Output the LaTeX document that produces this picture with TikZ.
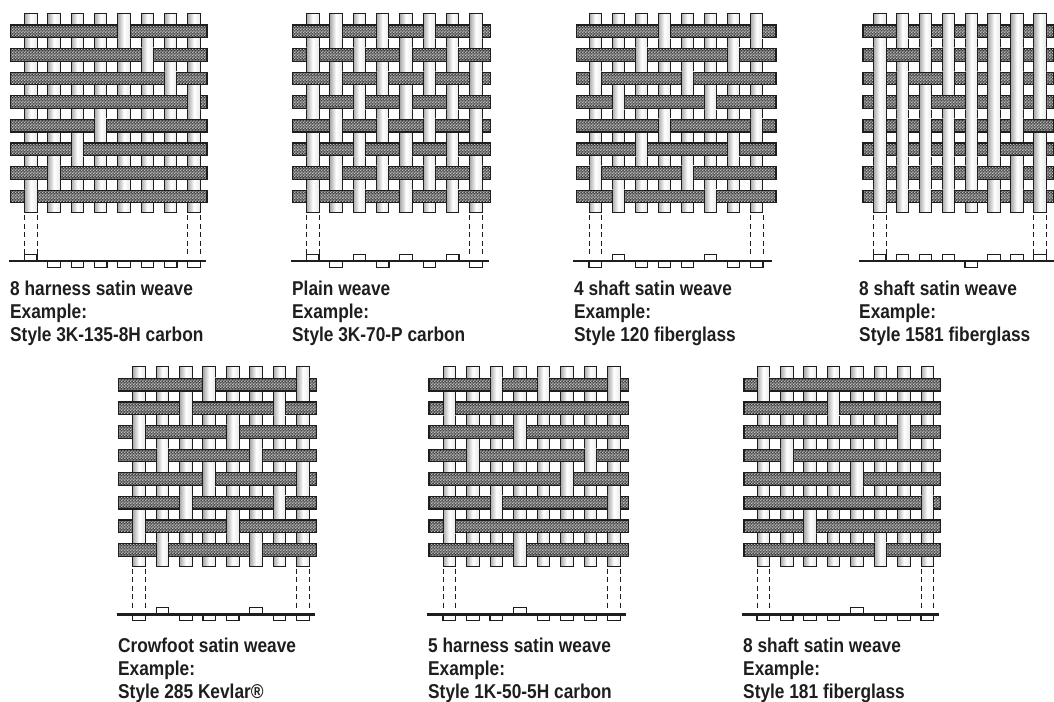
\documentclass[tikz,border=0pt]{standalone}
\usepackage{fontspec}
\usepackage{tikz}
\usetikzlibrary{
  patterns,
  positioning
}
\setmainfont{Liberation Sans}[FakeStretch=0.865]
\definecolor{wvInk}{HTML}{1E1E1E}
\definecolor{wvDark}{HTML}{2E2E2E}
\definecolor{wvMid}{HTML}{5C5C5C}
\definecolor{wvCheck}{HTML}{BEBEBE}
\definecolor{wvSide}{HTML}{A8A8A8}
\definecolor{wvPale}{HTML}{E8E8E8}
\pgfdeclarepatternformonly{weftcheck}{\pgfqpoint{0pt}{0pt}}{\pgfqpoint{3.2pt}{3.2pt}}{\pgfqpoint{3.2pt}{3.2pt}}{
  \pgfpathrectangle{\pgfqpoint{0pt}{0pt}}{\pgfqpoint{1.6pt}{1.6pt}}
  \pgfpathrectangle{\pgfqpoint{1.6pt}{1.6pt}}{\pgfqpoint{1.6pt}{1.6pt}}
  \pgfusepath{fill}
}
\tikzset{
  warpbar/.style={draw=wvInk, line width=1pt, left color=wvSide, right color=wvPale, middle color=white},
  warpfill/.style={left color=wvSide, right color=wvPale, middle color=white},
  warpside/.style={wvInk, line width=1pt},
  weftbar/.style={top color=wvDark, bottom color=wvInk, middle color=wvMid,
    postaction={pattern=weftcheck, pattern color=wvCheck},
    postaction={draw=wvInk, line width=1.2pt}},
  guideline/.style={wvInk, line width=0.7pt, dash pattern=on 5pt off 3.5pt},
  crossline/.style={wvInk, line width=2.2pt},
  crossbox/.style={draw=wvInk, line width=1.1pt, fill=white},
  captiontext/.style={anchor=north west, align=left, inner sep=0pt, text=wvInk,
    font=\fontsize{20}{23.2}\selectfont\bfseries}
}
% #1 first warp x, #2 first weft y, #3 warp pitch, #4 weft left, #5 weft right
% #6 section start, #7 section end, #8 warps on top per row, #9 section up/down per warp
\newcommand{\weavepanel}[9]{
  \foreach \k in {0,...,7}
    \draw[warpbar] ({#1+\k*#3-6.3},{#2-18}) rectangle ({#1+\k*#3+6.3},{#2+181.4});
  \foreach \k in {0,...,7}
    \path[weftbar] (#4,{#2+\k*23.6-6.3}) rectangle (#5,{#2+\k*23.6+6.3});
  \foreach \tops [count=\r from 0] in {#8}
    \foreach \c in \tops {
      \shade[warpfill] ({#1+(\c-1)*#3-6.3},{#2+\r*23.6-7}) rectangle ({#1+(\c-1)*#3+6.3},{#2+\r*23.6+7});
      \draw[warpside] ({#1+(\c-1)*#3-6.3},{#2+\r*23.6-7}) -- ++(0,14);
      \draw[warpside] ({#1+(\c-1)*#3+6.3},{#2+\r*23.6-7}) -- ++(0,14);
    }
  \foreach \k in {0,7}
    \foreach \e in {-6.3,6.3}
      \draw[guideline] ({#1+\k*#3+\e},{#2+184}) -- ({#1+\k*#3+\e},{#2+223});
  \foreach \s [count=\k from 0] in {#9}
    \draw[crossbox] ({#1+\k*#3-6.3},{#2+229.7}) rectangle ({#1+\k*#3+6.3},{#2+229.7+\s*6.5});
  \draw[crossline] (#6,{#2+229.7}) -- (#7,{#2+229.7});
}
\begin{document}
\begin{tikzpicture}[x=1pt, y=-1pt]
  \useasboundingbox (0,0) rectangle (1054,701);
  \weavepanel{30.7}{31.3}{23.33}{10.7}{207}{9.3}{206}
    {{5},{6},{7},{8},{4},{3},{2},{1}}{-1,1,1,1,1,1,1,1}
  \weavepanel{312.7}{31.3}{23.33}{292.7}{490.7}{291}{488.7}
    {{2,4,6,8},{1,3,5,7},{2,4,6,8},{1,3,5,7},{2,4,6,8},{1,3,5,7},{2,4,6,8},{1,3,5,7}}{-1,1,-1,1,-1,1,-1,1}
  \weavepanel{595.3}{31.3}{23.05}{576.7}{776}{573}{771.7}
    {{4,8},{3,7},{1,5},{2,6},{4,8},{3,7},{1,5},{2,6}}{1,-1,1,1,1,-1,1,1}
  \weavepanel{879.7}{31.3}{22.9}{863}{1054}{859}{1054}
    {{2,3,4,5,6,7,8},{1,3,4,5,6,7,8},{1,2,4,5,6,7,8},{1,2,3,5,6,7,8},{1,2,3,4,5,6,7},{1,2,3,4,5,6,8},{1,2,3,4,5,7,8},{1,2,3,4,6,7,8}}{-1,-1,-1,-1,1,-1,-1,-1}
  \weavepanel{139}{384.7}{23.43}{118.3}{316.7}{116.7}{315}
    {{4,8},{3,7},{1,5},{2,6},{4,8},{3,7},{1,5},{2,6}}{1,-1,1,1,1,-1,1,1}
  \weavepanel{449.3}{384.7}{23.52}{429}{628.3}{427.3}{626}
    {{3,5,8},{1},{4},{2,7},{6},{3,8},{1},{4}}{1,1,1,-1,1,1,1,1}
  \weavepanel{763.3}{384.7}{23.43}{744}{940.7}{742.3}{939.3}
    {{1},{4},{7},{2},{5},{8},{3},{6}}{1,1,1,1,-1,1,1,1}
  \node[captiontext] (cap8harness) at (10,280.5) {8 harness satin weave\\Example:\\Style 3K-135-8H carbon};
  \node[captiontext] (capplain) at (292,280.5) {Plain weave\\Example:\\Style 3K-70-P carbon};
  \node[captiontext] (cap4shaft) at (574,280.5) {4 shaft satin weave\\Example:\\Style 120 fiberglass};
  \node[captiontext] (cap8shafta) at (859,280.5) {8 shaft satin weave\\Example:\\Style 1581 fiberglass};
  \node[captiontext] (capcrowfoot) at (118,637.5) {Crowfoot satin weave\\Example:\\Style 285 Kevlar®};
  \node[captiontext] (cap5harness) at (428,637.5) {5 harness satin weave\\Example:\\Style 1K-50-5H carbon};
  \node[captiontext] (cap8shaftb) at (743,637.5) {8 shaft satin weave\\Example:\\Style 181 fiberglass};
\end{tikzpicture}
\end{document}
